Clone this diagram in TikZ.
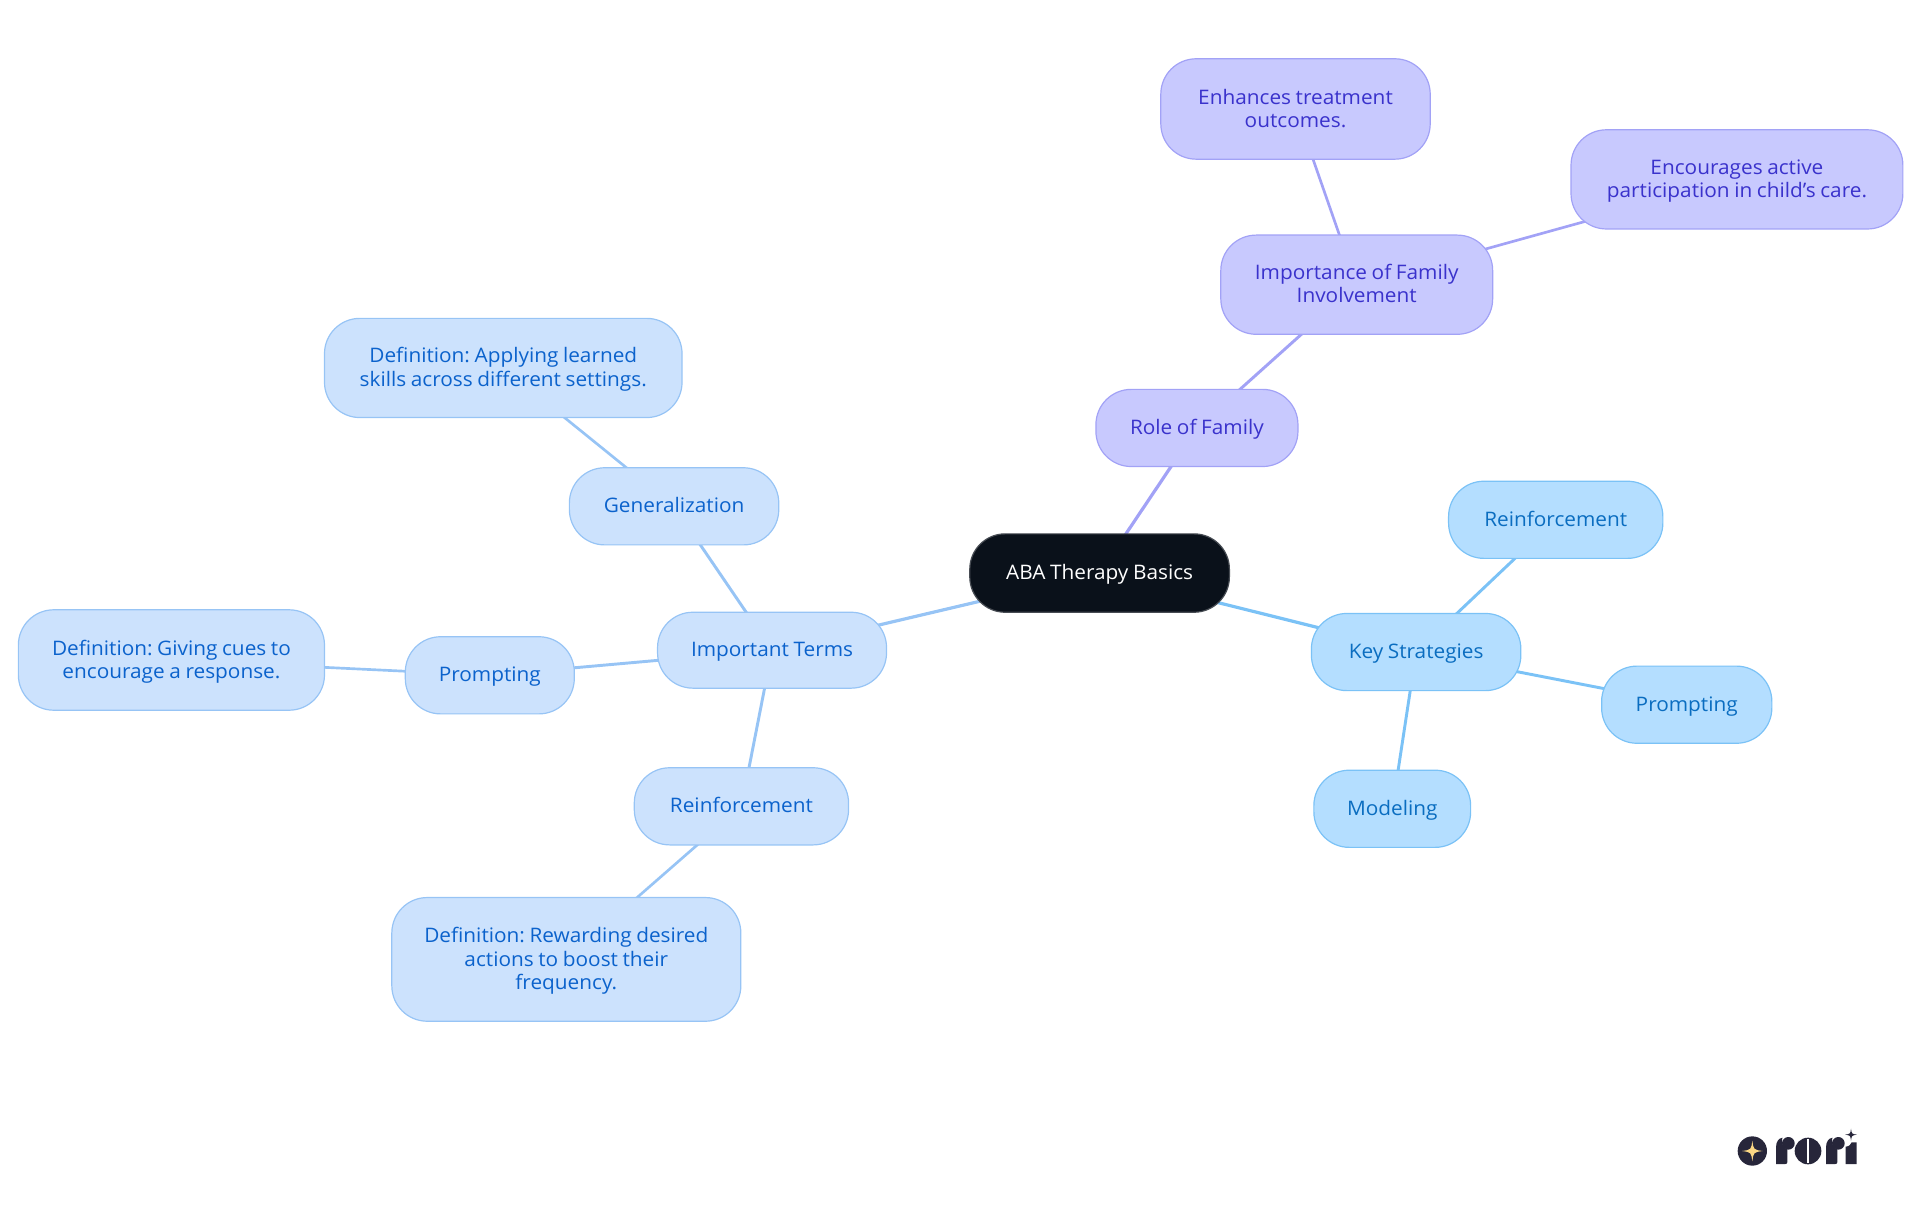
\documentclass[tikz,border=0pt]{standalone}
\usepackage{fontspec}
\setmainfont[FakeStretch=1.04,WordSpace=0.85]{Open Sans}
\usetikzlibrary{backgrounds}
\definecolor{purF}{HTML}{C8C9FE}
\definecolor{purD}{HTML}{A2A2F6}
\definecolor{purT}{HTML}{3A32CC}
\definecolor{bluF}{HTML}{CCE2FD}
\definecolor{bluD}{HTML}{97C4F5}
\definecolor{bluT}{HTML}{0B62CC}
\definecolor{skyF}{HTML}{B4DEFF}
\definecolor{skyD}{HTML}{7BC2F6}
\definecolor{skyT}{HTML}{0A6DC0}
\definecolor{rootF}{HTML}{0A111A}
\definecolor{logoD}{HTML}{27263A}
\definecolor{logoY}{HTML}{FBD784}
\tikzset{
  mm/.style={rectangle,rounded corners=26.5pt,align=center,line width=0.9pt,inner sep=0pt,
    font=\fontsize{15}{17.4}\selectfont\frenchspacing},
  rootbox/.style={mm,fill=rootF,draw=rootF!75!white,text=white},
  purbox/.style={mm,fill=purF,draw=purD,text=purT},
  blubox/.style={mm,fill=bluF,draw=bluD,text=bluT},
  skybox/.style={mm,fill=skyF,draw=skyD,text=skyT},
  purline/.style={draw=purD},
  bluline/.style={draw=bluD},
  skyline/.style={draw=skyD},
  deptha/.style={line width=2.4pt},
  depthb/.style={line width=2.2pt},
  depthc/.style={line width=2.0pt},
  logofill/.style={fill=logoD,draw=none},
}
% name, left, right, top, bottom, style, text  (in units of the 1568-wide view)
\newcommand{\mmnode}[7]{%
  \pgfmathsetmacro{\mmw}{(#3-#2)*0.91837}%
  \pgfmathsetmacro{\mmh}{(#5-#4)*0.91837}%
  \node[#6,minimum width=\mmw pt,minimum height=\mmh pt] (#1) at ({(#2+#3)/2},{(#4+#5)/2})
    {\smash{\raisebox{-5.1pt}{\begin{tabular}{@{}c@{}}#7\end{tabular}}}};%
}
\newcommand{\logostar}[4]{% cx cy r colour
  \fill[#4] (#1,#2-#3) .. controls (#1+#3*0.12,#2-#3*0.12) .. (#1+#3,#2)
    .. controls (#1+#3*0.12,#2+#3*0.12) .. (#1,#2+#3)
    .. controls (#1-#3*0.12,#2+#3*0.12) .. (#1-#3,#2)
    .. controls (#1-#3*0.12,#2-#3*0.12) .. cycle;%
}
\begin{document}
\begin{tikzpicture}[x=0.91837pt,y=-0.91837pt]
\useasboundingbox (0,0) rectangle (1568,992.25);
\mmnode{root}{792}{1004}{436}{500}{rootbox}{ABA Therapy Basics}
\mmnode{role}{895}{1060}{318}{381}{purbox}{Role of Family}
\mmnode{imp}{997}{1219}{192}{273}{purbox}{Importance of Family\\Involvement}
\mmnode{enh}{948}{1168}{48}{130}{purbox}{Enhances treatment\\outcomes.}
\mmnode{enc}{1283}{1554}{106}{187}{purbox}{Encourages active\\participation in child's care.}
\mmnode{key}{1071}{1242}{501}{564}{skybox}{Key Strategies}
\mmnode{reinfr}{1183}{1358}{393}{456}{skybox}{Reinforcement}
\mmnode{promr}{1308}{1447}{544}{607}{skybox}{Prompting}
\mmnode{model}{1073}{1201}{629}{692}{skybox}{Modeling}
\mmnode{terms}{537}{724}{500}{562}{blubox}{Important Terms}
\mmnode{gen}{465}{636}{382}{445}{blubox}{Generalization}
\mmnode{defgen}{265}{557}{260}{341}{blubox}{Definition: Applying learned\\skills across different settings.}
\mmnode{proml}{331}{469}{520}{583}{blubox}{Prompting}
\mmnode{defprom}{15}{265}{498}{580}{blubox}{Definition: Giving cues to\\encourage a response.}
\mmnode{reinfl}{518}{693}{627}{690}{blubox}{Reinforcement}
\mmnode{defreinf}{320}{605}{733}{834}{blubox}{Definition: Rewarding desired\\actions to boost their\\frequency.}
\begin{pgfonlayer}{background}
\draw[purline,deptha] (root.center) -- (role.center);
\draw[purline,depthb] (role.center) -- (imp.center);
\draw[purline,depthc] (imp.center) -- (enh.center);
\draw[purline,depthc] (imp.center) -- (enc.center);
\draw[skyline,deptha] (root.center) -- (key.center);
\draw[skyline,depthb] (key.center) -- (reinfr.center);
\draw[skyline,depthb] (key.center) -- (promr.center);
\draw[skyline,depthb] (key.center) -- (model.center);
\draw[bluline,deptha] (root.center) -- (terms.center);
\draw[bluline,depthb] (terms.center) -- (gen.center);
\draw[bluline,depthb] (terms.center) -- (proml.center);
\draw[bluline,depthb] (terms.center) -- (reinfl.center);
\draw[bluline,depthc] (gen.center) -- (defgen.center);
\draw[bluline,depthc] (proml.center) -- (defprom.center);
\draw[bluline,depthc] (reinfl.center) -- (defreinf.center);
\end{pgfonlayer}
% logo, in thirds of a pixel of the 1920-wide image
\begin{scope}[x=0.25pt,y=-0.25pt,shift={(1700*3,1100*3)}]
\fill[logoD] (157,153) circle (44);
\logostar{157}{153}{31}{logoY}
% first r
\fill[logofill] (228,192) -- (228,142) .. controls (228,125) and (236,115) .. (247,113)
  .. controls (243,128) and (250,146) .. (262,148) -- (262,186) .. controls (262,190) and (260,192) .. (256,192) -- cycle;
\fill[logoD] (265,130) circle (19);
% o
\fill[logoD] (324,153) circle (40);
\fill[white] (322,118) rectangle (327,188);
% second r
\fill[logofill] (378,192) -- (378,142) .. controls (378,125) and (386,115) .. (397,113)
  .. controls (393,128) and (400,146) .. (412,148) -- (412,186) .. controls (412,190) and (410,192) .. (406,192) -- cycle;
\fill[logoD] (415,130) circle (19);
% i
\fill[logofill] (437,192) -- (437,140) .. controls (447,139) and (453,134) .. (455,127) -- (470,127) -- (470,192) -- cycle;
\logostar{453}{104}{18}{logoD}
\end{scope}
\end{tikzpicture}
\end{document}
